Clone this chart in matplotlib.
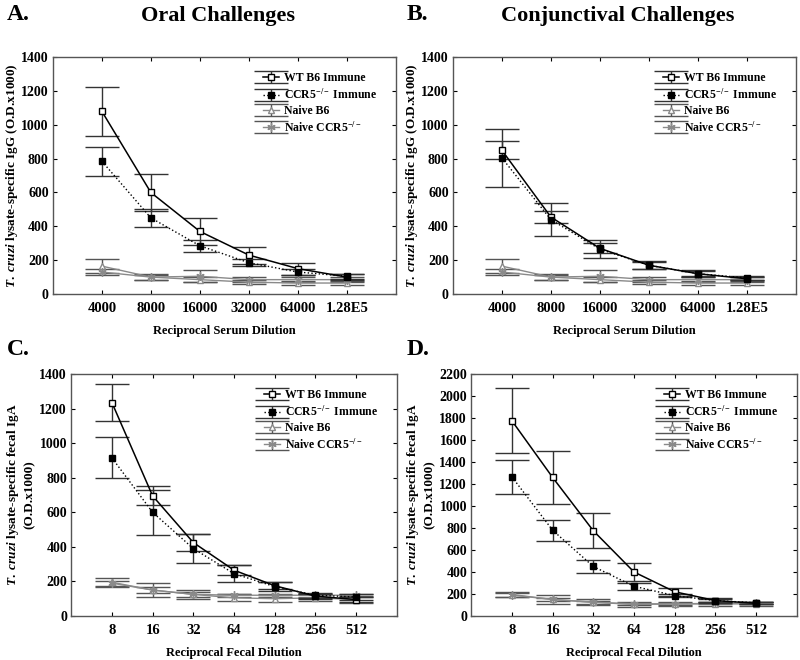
import numpy as np
import matplotlib.pyplot as plt

plt.rcParams['font.family'] = ['Liberation Serif', 'DejaVu Serif']
plt.rcParams['font.weight'] = 'bold'
plt.rcParams['mathtext.fontset'] = 'custom'
plt.rcParams['mathtext.rm'] = 'Liberation Serif:bold'
plt.rcParams['mathtext.it'] = 'Liberation Serif:italic:bold'
plt.rcParams['mathtext.bf'] = 'Liberation Serif:bold'

# serum dilutions (panels A, B)
serum_labels = ['4000', '8000', '16000', '32000', '64000', '1.28E5']
# fecal dilutions (panels C, D)
fecal_labels = ['8', '16', '32', '64', '128', '256', '512']

series_names = ['WT B6 Immune', r'CCR5$^{\mathrm{-/-}}$ Immune', 'Naive B6', r'Naive CCR5$^{\mathrm{-/-}}$']

# Panel A - oral, serum IgG
a_wt = [1080, 600, 370, 230, 150, 100]
a_wt_err = [145, 110, 80, 50, 35, 20]
a_ko = [785, 450, 285, 185, 130, 105]
a_ko_err = [85, 55, 35, 20, 20, 15]
a_nb6 = [165, 100, 85, 70, 65, 65]
a_nb6_err = [40, 20, 15, 10, 10, 10]
a_nko = [130, 100, 105, 85, 85, 85]
a_nko_err = [15, 15, 35, 15, 15, 15]

# Panel B - conjunctival, serum IgG
b_wt = [850, 455, 270, 170, 120, 90]
b_wt_err = [55, 35, 30, 20, 15, 10]
b_ko = [805, 440, 265, 170, 120, 95]
b_ko_err = [172, 97, 55, 25, 20, 10]
b_nb6 = [165, 100, 85, 70, 65, 65]
b_nb6_err = [40, 20, 15, 10, 10, 10]
b_nko = [130, 100, 105, 85, 85, 85]
b_nko_err = [15, 15, 35, 15, 15, 15]

# Panel C - oral, fecal IgA
c_wt = [1235, 695, 425, 265, 175, 115, 95]
c_wt_err = [105, 55, 50, 30, 20, 15, 15]
c_ko = [915, 600, 390, 245, 170, 120, 110]
c_ko_err = [118, 130, 85, 50, 25, 15, 15]
c_nb6 = [195, 150, 125, 105, 100, 105, 95]
c_nb6_err = [25, 40, 25, 20, 20, 20, 20]
c_nko = [190, 150, 125, 120, 120, 120, 120]
c_nko_err = [15, 15, 15, 10, 10, 10, 10]

# Panel D - conjunctival, fecal IgA
d_wt = [1775, 1260, 775, 400, 220, 140, 115]
d_wt_err = [295, 240, 160, 80, 35, 20, 10]
d_ko = [1265, 780, 450, 270, 185, 140, 120]
d_ko_err = [155, 95, 55, 30, 15, 15, 10]
d_nb6 = [195, 150, 125, 105, 110, 110, 110]
d_nb6_err = [25, 40, 25, 20, 20, 20, 20]
d_nko = [190, 150, 125, 110, 110, 115, 115]
d_nko_err = [15, 15, 15, 10, 10, 10, 10]

fig = plt.figure(figsize=(8, 6.6), dpi=100)

ax_a = fig.add_axes([0.066, 0.5545, 0.429, 0.359])
ax_b = fig.add_axes([0.566, 0.5545, 0.429, 0.359])
ax_c = fig.add_axes([0.089, 0.0667, 0.407, 0.3666])
ax_d = fig.add_axes([0.589, 0.0667, 0.407, 0.3666])

gray = '#8a8a8a'
dgray = '#555555'


def draw_panel(ax, labels, wt, wt_e, ko, ko_e, nb6, nb6_e, nko, nko_e, ymax, ylabel, xlabel, ylab_x):
    x = np.arange(1, len(labels) + 1)
    kw = dict(capsize=12, capthick=1.0, elinewidth=1.0)
    ax.errorbar(x, nb6, yerr=nb6_e, color=gray, ecolor=dgray, lw=1.0, marker='^',
                ms=5, mfc='white', mec=gray, label=series_names[2], zorder=2, **kw)
    ax.errorbar(x, nko, yerr=nko_e, color=gray, ecolor=dgray, lw=1.0, marker=(6, 2, 0),
                ms=6, mec=gray, label=series_names[3], zorder=2, **kw)
    ax.errorbar(x, wt, yerr=wt_e, color='black', ecolor='#333333', lw=1.1, marker='s',
                ms=5, mfc='white', mec='black', label=series_names[0], zorder=3, **kw)
    ax.errorbar(x, ko, yerr=ko_e, color='black', ecolor='#333333', lw=1.0, ls=':', marker='s',
                ms=5, mfc='black', mec='black', label=series_names[1], zorder=3, **kw)
    ax.set_xlim(0, len(labels) + 1)
    ax.set_ylim(0, ymax)
    ax.set_xticks(x)
    ax.set_xticklabels(labels, fontsize=10.5, fontweight='bold')
    ax.set_yticks(np.arange(0, ymax + 1, 200))
    ax.tick_params(axis='both', direction='in', length=3, top=True, right=True)
    ax.tick_params(axis='y', labelsize=10, pad=3)
    ax.tick_params(axis='x', pad=6)
    for lab in ax.get_yticklabels():
        lab.set_fontweight('bold')
    for s in ax.spines.values():
        s.set_color(dgray)
        s.set_linewidth(1.0)
    ax.set_ylabel(ylabel, fontsize=9.5, fontweight='bold', linespacing=1.25)
    ax.yaxis.set_label_coords(ylab_x, 0.5)
    ax.set_xlabel(xlabel, fontsize=9, fontweight='bold', labelpad=7)
    h, l = ax.get_legend_handles_labels()
    order = [2, 3, 0, 1]
    ax.legend([h[i] for i in order], [l[i] for i in order], loc='upper right',
              bbox_to_anchor=(0.975, 0.98), frameon=False, fontsize=8.5,
              handlelength=1.4, labelspacing=0.25, handletextpad=0.4)


ylab_serum = r'$T.\ cruzi$ lysate-specific IgG (O.D.x1000)'
ylab_fecal = r'$T.\ cruzi$ lysate-specific fecal IgA' + '\n(O.D.x1000)'

draw_panel(ax_a, serum_labels, a_wt, a_wt_err, a_ko, a_ko_err, a_nb6, a_nb6_err, a_nko, a_nko_err,
           1400, ylab_serum, 'Reciprocal Serum Dilution', -0.095)
draw_panel(ax_b, serum_labels, b_wt, b_wt_err, b_ko, b_ko_err, b_nb6, b_nb6_err, b_nko, b_nko_err,
           1400, ylab_serum, 'Reciprocal Serum Dilution', -0.095)
draw_panel(ax_c, fecal_labels, c_wt, c_wt_err, c_ko, c_ko_err, c_nb6, c_nb6_err, c_nko, c_nko_err,
           1400, ylab_fecal, 'Reciprocal Fecal Dilution', -0.11)
draw_panel(ax_d, fecal_labels, d_wt, d_wt_err, d_ko, d_ko_err, d_nb6, d_nb6_err, d_nko, d_nko_err,
           2200, ylab_fecal, 'Reciprocal Fecal Dilution', -0.11)

# panel letters and titles
fig.text(0.008, 0.978, 'A.', fontsize=17, fontweight='bold', va='center')
fig.text(0.508, 0.978, 'B.', fontsize=17, fontweight='bold', va='center')
fig.text(0.008, 0.47, 'C.', fontsize=17, fontweight='bold', va='center')
fig.text(0.508, 0.47, 'D.', fontsize=17, fontweight='bold', va='center')
fig.text(0.273, 0.976, 'Oral Challenges', fontsize=16, fontweight='bold', ha='center', va='center')
fig.text(0.772, 0.976, 'Conjunctival Challenges', fontsize=16, fontweight='bold', ha='center', va='center')

fig.savefig('out.png', dpi=100)
